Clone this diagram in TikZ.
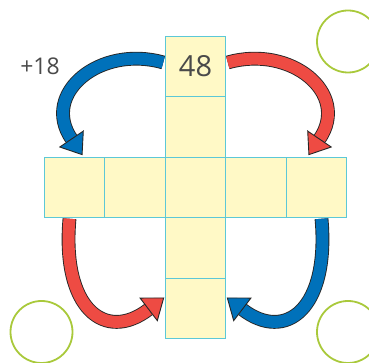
\documentclass[tikz,border=0pt]{standalone}
\usepackage{fontspec}
\setmainfont{Open Sans}
\usetikzlibrary{arrows.meta,positioning,calc}
\definecolor{cellfill}{HTML}{FFF9C6}
\definecolor{cellline}{HTML}{5CC8D7}
\definecolor{ringgreen}{HTML}{A9C93B}
\definecolor{arrowblue}{HTML}{0071BA}
\definecolor{arrowred}{HTML}{EE4B43}
\definecolor{numgray}{HTML}{4A4A4A}

\begin{document}
\begin{tikzpicture}[
    x=1pt, y=1pt,
    node distance=0pt,
    cellbox/.style={
        draw=cellline,
        fill=cellfill,
        line width=1.3pt,
        minimum size=60.5pt,
        inner sep=0pt,
        outer sep=0pt, % cells share their borders
        text=numgray,
        font=\fontsize{29}{30}\selectfont
    },
    ringbox/.style={circle, draw=ringgreen, line width=1.8pt, minimum size=62pt},
    % fat outlined arrows
    basearrow/.style={draw=black!85, line width=0.9pt, double distance=12pt},
    bluearrow/.style={basearrow, double=arrowblue, -{Triangle[length=20pt, width=30pt, fill=arrowblue]}},
    redarrow/.style={basearrow, double=arrowred, -{Triangle[length=20pt, width=30pt, fill=arrowred]}}
]
\useasboundingbox (0,0) rectangle (369,363);

% Cells
\node[cellbox] (mid) at (195.5,175.5) {};
\node[cellbox, left=of mid] (left2) {};
\node[cellbox, left=of left2] (left1) {};
\node[cellbox, right=of mid] (right1) {};
\node[cellbox, right=of right1] (right2) {};
\node[cellbox, above=of mid] (up1) {};
\node[cellbox, above=of up1] (up2) {48};
\node[cellbox, below=of mid] (down1) {};
\node[cellbox, below=of down1] (down2) {};

% Answer rings
\node[ringbox] (ringtr) at (348,321.5) {};
\node[ringbox] (ringbl) at (41.5,31) {};
\node[ringbox] (ringbr) at (348,31) {};

% Label
\node[text=numgray, font=\fontsize{23}{24}\selectfont] (plus18) at (40,297) {+18};

% Arrows
\draw[bluearrow] ($(up2.west)+(-2,4)$) .. controls +(-63,18) and +(-42,62) .. ($(left1.north)+(8,2)$);
\draw[redarrow] ($(up2.east)+(2,4)$) .. controls +(63,18) and +(42,62) .. ($(right2.north)+(-8,2)$);
\draw[redarrow] ($(left1.south)+(-5,-1)$) .. controls +(-8,-90) and +(-59,-45) .. ($(down2.west)+(-1,11)$);
\draw[bluearrow] ($(right2.south)+(5,-1)$) .. controls +(8,-90) and +(59,-45) .. ($(down2.east)+(1,11)$);

\end{tikzpicture}
\end{document}
